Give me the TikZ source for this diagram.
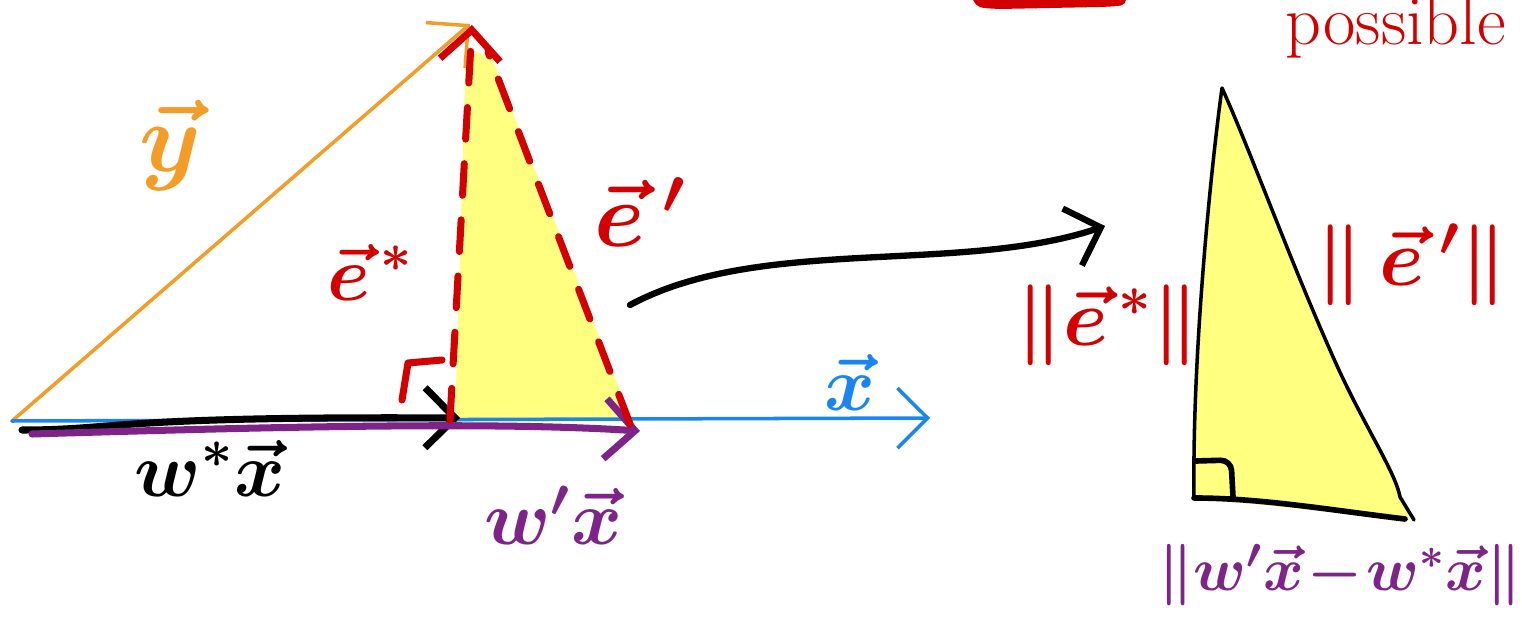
\RequirePackage{fix-cm}
\documentclass[tikz,border=0pt]{standalone}
\usetikzlibrary{arrows.meta, positioning}
\definecolor{penorange}{HTML}{F39C27}
\definecolor{penblue}{HTML}{1A85F0}
\definecolor{penred}{HTML}{D20000}
\definecolor{penpurple}{HTML}{7E2388}
\definecolor{penyellow}{HTML}{FFFF80}

\begin{document}
\begin{tikzpicture}[x=0.01cm, y=-0.01cm, line cap=round, line join=round,
  tip/.style={-{Straight Barb[length=3mm, width=6mm]}},
  dashpen/.style={penred, line width=2pt, dash pattern=on 9pt off 7pt},
  lbl/.style={inner sep=0pt, font=\fontsize{#1}{#1}\selectfont\boldmath},
  lbl/.default=26]
\useasboundingbox (0,0) rectangle (1522,622);
% points of the left sketch
\coordinate (O) at (12,421);
\coordinate (Ytip) at (470,24);
\coordinate (Xtip) at (930,418);
\coordinate (Ws) at (22,430);
\coordinate (WStip) at (460,418);
\coordinate (Wp) at (32,434);
\coordinate (WPtip) at (640,431);
\coordinate (Foot) at (450,420);
\coordinate (Etip) at (472,25);
\coordinate (Eptail) at (630,424);
\coordinate (Eptop) at (488,52);
% yellow shading
\fill[penyellow] (455,422) -- (466,48) -- (492,58) -- (632,422) -- cycle;
% vectors
\draw[penorange, line width=1pt, tip] (O) -- (Ytip);
\draw[penblue, line width=1pt, tip] (O) -- (Xtip);
\draw[black, line width=2pt, tip] (Ws) .. controls (120,430) and (110,416) .. (WStip);
\draw[penpurple, line width=2pt, tip] (Wp) .. controls (300,426) and (500,422) .. (WPtip);
\draw[dashpen, tip] (Foot) -- (Etip);
\draw[dashpen] (Eptail) -- (Eptop);
\draw[penred, line width=2pt] (402,400) -- (408,363) -- (442,360);
% labels of the left sketch
\node[lbl=28, penorange] (ylbl) at (170,145) {$\vec{y}$};
\node[lbl=22, penblue] (xlbl) at (850,382) {$\vec{x}$};
\node[lbl=22] (wslbl) at (210,468) {$w^{*}\vec{x}$};
\node[lbl=22, penpurple] (wplbl) at (553,515) {$w'\vec{x}$};
\node[lbl=22, penred] (eslbl) at (370,272) {$\vec{e}^{\,*}$};
\node[lbl=26, penred] (eplbl) at (640,212) {$\vec{e}\,'$};
% curved arrow to the right sketch
\coordinate (Cs) at (630,305);
\coordinate (Ce) at (1105,226);
\draw[black, line width=1.8pt, tip] (Cs) .. controls (760,235) and (960,275) .. (Ce);
% right triangle
\coordinate (RA) at (1194,498);
\coordinate (RT) at (1222,88);
\coordinate (RB) at (1405,519);
\fill[penyellow] (RA) .. controls (1192,350) and (1212,160) .. (RT)
  .. controls (1250,150) and (1290,260) .. (1330,350)
  .. controls (1360,420) and (1395,470) .. (1410,520) -- cycle;
\draw[black, line width=1pt] (RA) .. controls (1192,350) and (1212,160) .. (RT)
  .. controls (1250,150) and (1290,260) .. (1330,350)
  .. controls (1360,420) and (1395,470) .. (1400,497) -- (1414,520);
\draw[black, line width=1.6pt] (RA) .. controls (1260,498) and (1330,510) .. (RB);
\draw[black, line width=1.6pt, rounded corners=3pt] (1196,461) -- (1231,460) -- (1233,497);
% labels of the right sketch
\node[lbl=23, penred] (esnorm) at (1108,325) {$\|\vec{e}^{\,*}\|$};
\node[lbl=23, penred] (epnorm) at (1412,265) {$\|\,\vec{e}\,'\|$};
\node[lbl=17.5, penpurple] (wnorm) at (1340,575) {$\|w'\vec{x}\!-\!w^{*}\vec{x}\|$};
% top remnants
\fill[penred] (973,0) -- (1126,0) .. controls (1124,6) .. (1100,7)
  -- (1000,9) .. controls (978,8) .. cycle;
\node[lbl=20, penred, anchor=base west] (poss) at (1285,45) {possible};
\end{tikzpicture}
\end{document}
